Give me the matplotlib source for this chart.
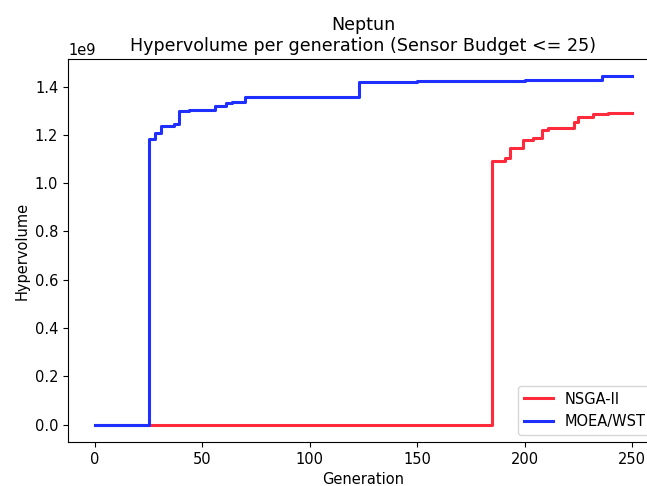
import numpy as np
import matplotlib
matplotlib.use("Agg")
import matplotlib.pyplot as plt

# step change points (generation, hypervolume in 1e9)
nsga_gen = [0, 185, 191, 193, 199, 204, 208, 211, 223, 225, 232, 239, 250]
nsga_hv = [0.0, 1.093, 1.106, 1.145, 1.178, 1.186, 1.219, 1.230, 1.255, 1.272, 1.288, 1.292, 1.292]

moea_gen = [0, 25, 28, 31, 37, 39, 44, 56, 61, 64, 70, 123, 150, 200, 236, 250]
moea_hv = [0.0, 1.184, 1.208, 1.237, 1.245, 1.299, 1.303, 1.320, 1.332, 1.337, 1.357, 1.419, 1.424, 1.429, 1.442, 1.442]

plt.rcParams['font.size'] = 10.5

fig = plt.figure(figsize=(6.47, 4.86), dpi=100)
ax = fig.add_axes([68 / 647, 44 / 486, 591 / 647, 383 / 486])

ax.plot(nsga_gen, np.array(nsga_hv) * 1e9, drawstyle='steps-post', color='#ff2a3c', lw=2.2, label='NSGA-II')
ax.plot(moea_gen, np.array(moea_hv) * 1e9, drawstyle='steps-post', color='#1f2fff', lw=2.2, label='MOEA/WST')

ax.set_title('Neptun\nHypervolume per generation (Sensor Budget <= 25)')
ax.set_xlabel('Generation')
ax.set_ylabel('Hypervolume')
ax.legend(loc='lower right')

fig.savefig('out.png', dpi=100)
